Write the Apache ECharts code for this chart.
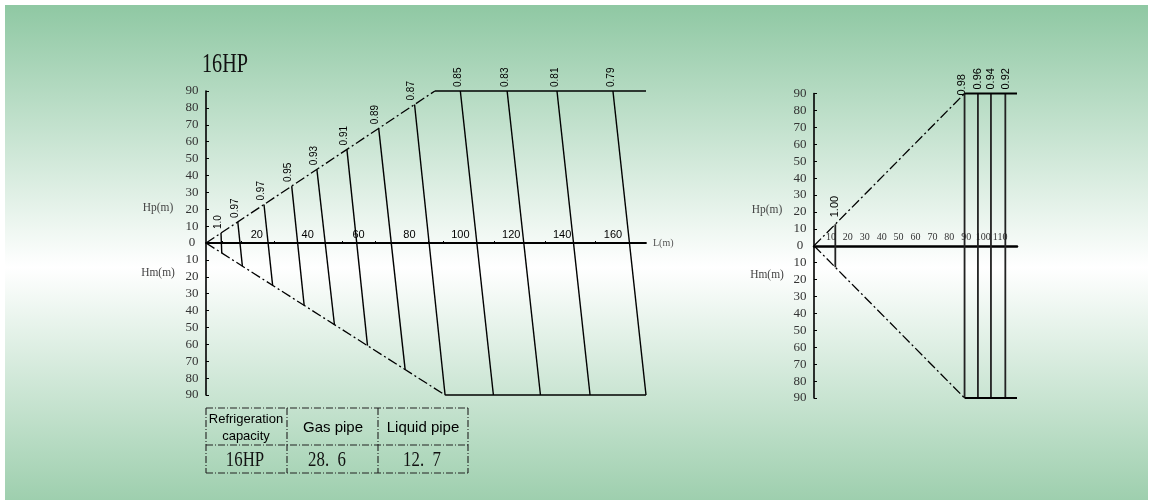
<!DOCTYPE html>
<html>
<head>
<meta charset="utf-8">
<title>16HP</title>
<script src="https://cdn.jsdelivr.net/npm/echarts@6.0.0/dist/echarts.min.js"></script>
<style>
  html, body { margin: 0; padding: 0; background: #fff; }
  #wrap { position: relative; width: 1153px; height: 503px; }
  #bg {
    position: absolute; left: 5px; top: 5px; width: 1143px; height: 495px;
    background: linear-gradient(to bottom, #8fc8a3 0%, #ffffff 53%, #9ecfae 100%);
  }
  #chart { position: absolute; left: 0; top: 0; width: 1153px; height: 503px; }
</style>
</head>
<body>
<div id="wrap"><div id="bg"></div><div id="chart"></div></div>
<script>
// ---- left diagram (16HP) ----
const leftFactors = ['1.0', '0.97', '0.97', '0.95', '0.93', '0.91', '0.89', '0.87', '0.85', '0.83', '0.81', '0.79']
const leftTopL = [5.9, 12.5, 22.8, 33.7, 43.6, 55.4, 67.9, 82, 100, 118.4, 138, 160]
const leftTopH = [5.9, 12.5, 22.8, 33.7, 43.6, 55.4, 67.9, 82, 90, 90, 90, 90]
const leftBotL = [6.2, 14.3, 26.2, 38.6, 50.5, 63.5, 78.3, 94, 113, 131.5, 151, 173]
const leftBotH = [-5.9, -13.7, -25.1, -37, -48.4, -60.8, -75, -90, -90, -90, -90, -90]
const leftXLabels = [20, 40, 60, 80, 100, 120, 140, 160]
const leftXTicks = [6.4, 13.7, 26.8, 53.4, 66.5, 87.3, 93.4, 113.5, 133.2, 153.1]
const leftUpperSlope = [[0, 0], [90, 90]]
const leftUpperFlat = [[90, 90], [173, 90]]
const leftLowerSlope = [[0, 0], [94, -90]]
const leftLowerFlat = [[94, -90], [173, -90]]

// ---- right diagram ----
const rightFactors = ['1.00', '0.98', '0.96', '0.94', '0.92']
const rightTopL = [12.6, 89, 96.9, 104.6, 113.1]
const rightTopH = [12.7, 90, 90, 90, 90]
const rightBotL = [12.6, 89, 96.9, 104.6, 113.1]
const rightBotH = [-12.7, -90, -90, -90, -90]
const rightXLabels = [10, 20, 30, 40, 50, 60, 70, 80, 90, 100, 110]
const rightUpperSlope = [[0, 0], [89, 90]]
const rightUpperFlat = [[89, 90], [120, 90]]
const rightLowerSlope = [[0, 0], [89, -90]]
const rightLowerFlat = [[89, -90], [120, -90]]

// ---- pipe table ----
const tableHead = ['Refrigeration\ncapacity', 'Gas pipe', 'Liquid pipe']
const tableRow = ['16HP', '28.  6', '12.  7']

const SERIF = '"Liberation Serif", "DejaVu Serif", serif'
const SANS = '"Liberation Sans", Arial, sans-serif'
const DASH_DOT = [10, 3, 2, 3]

function zip4 (a, b, c, d) {
  return a.map((v, i) => [v, b[i], c[i], d[i]])
}

function edge (data, gi, dashed, width) {
  return {
    type: 'line',
    xAxisIndex: gi,
    yAxisIndex: gi,
    data: data,
    symbol: 'none',
    clip: false,
    silent: true,
    lineStyle: { color: '#000', width: width, type: dashed ? DASH_DOT : 'solid' }
  }
}

// correction lines + rotated factor text at the top end
function factorLines (gi, data, names, opt) {
  return {
    type: 'custom',
    coordinateSystem: 'cartesian2d',
    xAxisIndex: gi,
    yAxisIndex: gi,
    clip: false,
    silent: true,
    encode: { x: [0, 2], y: [1, 3] },
    data: data,
    renderItem (params, api) {
      const i = params.dataIndex
      const p1 = api.coord([api.value(0), api.value(1)])
      const p2 = api.coord([api.value(2), api.value(3)])
      const lab = opt.label(i)
      return {
        type: 'group',
        children: [
          {
            type: 'line',
            shape: { x1: p1[0], y1: p1[1], x2: p2[0], y2: p2[1] },
            style: { stroke: opt.color, lineWidth: opt.width }
          },
          {
            type: 'text',
            x: p1[0] + lab.dx,
            y: p1[1] - lab.gap,
            rotation: Math.PI / 2,
            style: {
              text: names[i],
              fill: '#000',
              fontSize: opt.fontSize,
              fontFamily: SANS,
              align: 'left',
              verticalAlign: 'middle',
              textAlign: 'left',
              textVerticalAlign: 'middle'
            }
          }
        ]
      }
    }
  }
}

function yAxisOpt (gi) {
  return {
    type: 'value',
    gridIndex: gi,
    min: -90,
    max: 90,
    interval: 10,
    axisLine: { show: true, onZero: false, lineStyle: { color: '#000', width: 1.6 } },
    axisTick: { show: true, inside: true, length: 3, lineStyle: { color: '#000', width: 1 } },
    axisLabel: {
      formatter: v => String(Math.abs(v)),
      align: 'center',
      margin: 14,
      fontFamily: SERIF,
      fontSize: 13,
      color: '#333'
    },
    splitLine: { show: false }
  }
}

function txt (x, y, text, size, family, color, extra) {
  return Object.assign({
    type: 'text',
    x: x,
    y: y,
    silent: true,
    style: {
      text: text,
      fontSize: size,
      fontFamily: family,
      fill: color,
      align: 'center',
      verticalAlign: 'middle',
      textAlign: 'center',
      textVerticalAlign: 'middle',
      lineHeight: 17
    }
  }, extra || {})
}

// table frame and cells
function tableGraphic () {
  const cols = [206, 287, 378, 468]
  const rows = [408, 445, 473]
  const els = []
  const st = { stroke: '#222', lineWidth: 1.1, lineDash: [7, 2, 1, 2] }
  rows.forEach(y => els.push({ type: 'line', silent: true, shape: { x1: cols[0], y1: y, x2: cols[3], y2: y }, style: st }))
  cols.forEach(x => els.push({ type: 'line', silent: true, shape: { x1: x, y1: rows[0], x2: x, y2: rows[2] }, style: st }))
  els.push(txt(246, 427.5, tableHead[0], 13, SANS, '#000'))
  els.push(txt(333, 428, tableHead[1], 15, SANS, '#000'))
  els.push(txt(423, 428, tableHead[2], 15, SANS, '#000'))
  els.push(txt(245, 460, tableRow[0], 21, SERIF, '#111', { scaleX: 0.8 }))
  els.push(txt(327, 460, tableRow[1], 21, SERIF, '#111', { scaleX: 0.8 }))
  els.push(txt(422, 460, tableRow[2], 21, SERIF, '#111', { scaleX: 0.8 }))
  return els
}

const chart = echarts.init(document.getElementById('chart'), null, { renderer: 'canvas' })

// x axes sit on H = 0, lifted up from the grid bottom by half the grid height
const option = {
  animation: false,
  grid: [
    { left: 206, top: 91, width: 440, height: 304, containLabel: false, outerBoundsMode: 'none' },
    { left: 814, top: 93.5, width: 203, height: 304.5, containLabel: false, outerBoundsMode: 'none' }
  ],
  xAxis: [
    {
      type: 'value',
      gridIndex: 0,
      min: 0,
      max: 173,
      offset: -152,
      axisLine: { onZero: false, lineStyle: { color: '#000', width: 1.8 } },
      axisTick: { show: true, inside: true, length: 2, customValues: leftXTicks, lineStyle: { color: '#000' } },
      axisLabel: { inside: true, margin: 3, customValues: leftXLabels, fontFamily: SANS, fontSize: 11, color: '#000' },
      splitLine: { show: false },
      name: 'L(m)',
      nameLocation: 'end',
      nameGap: 7,
      nameTextStyle: { fontFamily: SERIF, fontSize: 10, color: '#555' }
    },
    {
      type: 'value',
      gridIndex: 1,
      min: 0,
      max: 120,
      offset: -152.25,
      axisLine: { onZero: false, lineStyle: { color: '#000', width: 2.5 } },
      axisTick: { show: false },
      axisLabel: { inside: true, margin: 3, customValues: rightXLabels, fontFamily: SERIF, fontSize: 10, color: '#333' },
      splitLine: { show: false }
    }
  ],
  yAxis: [yAxisOpt(0), yAxisOpt(1)],
  graphic: [
    txt(202, 65, '16HP', 28, SERIF, '#111', { scaleX: 0.72, style: { text: '16HP', fontSize: 28, fontFamily: SERIF, fill: '#111', align: 'left', verticalAlign: 'middle', textAlign: 'left', textVerticalAlign: 'middle' } }),
    txt(158, 208, 'Hp(m)', 13, SERIF, '#444', { scaleX: 0.88 }),
    txt(158, 273, 'Hm(m)', 13, SERIF, '#444', { scaleX: 0.88 }),
    txt(767, 210, 'Hp(m)', 13, SERIF, '#444', { scaleX: 0.88 }),
    txt(767, 275, 'Hm(m)', 13, SERIF, '#444', { scaleX: 0.88 })
  ].concat(tableGraphic()),
  series: [
    edge(leftUpperSlope, 0, true, 1.3),
    edge(leftUpperFlat, 0, false, 1.6),
    edge(leftLowerSlope, 0, true, 1.3),
    edge(leftLowerFlat, 0, false, 1.6),
    factorLines(0, zip4(leftTopL, leftTopH, leftBotL, leftBotH), leftFactors, {
      color: '#000',
      width: 1.4,
      fontSize: 10,
      label: i => ({ dx: i < 8 ? -3 : -2, gap: 4 })
    }),
    edge(rightUpperSlope, 1, true, 1.3),
    edge(rightUpperFlat, 1, false, 2),
    edge(rightLowerSlope, 1, true, 1.3),
    edge(rightLowerFlat, 1, false, 2),
    factorLines(1, zip4(rightTopL, rightTopH, rightBotL, rightBotH), rightFactors, {
      color: '#222',
      width: 1.8,
      fontSize: 11,
      label: i => (i === 0 ? { dx: 0, gap: 7 } : (i === 1 ? { dx: -3, gap: -2 } : { dx: 0.5, gap: 4 }))
    })
  ]
}

chart.setOption(option)
</script>
</body>
</html>
